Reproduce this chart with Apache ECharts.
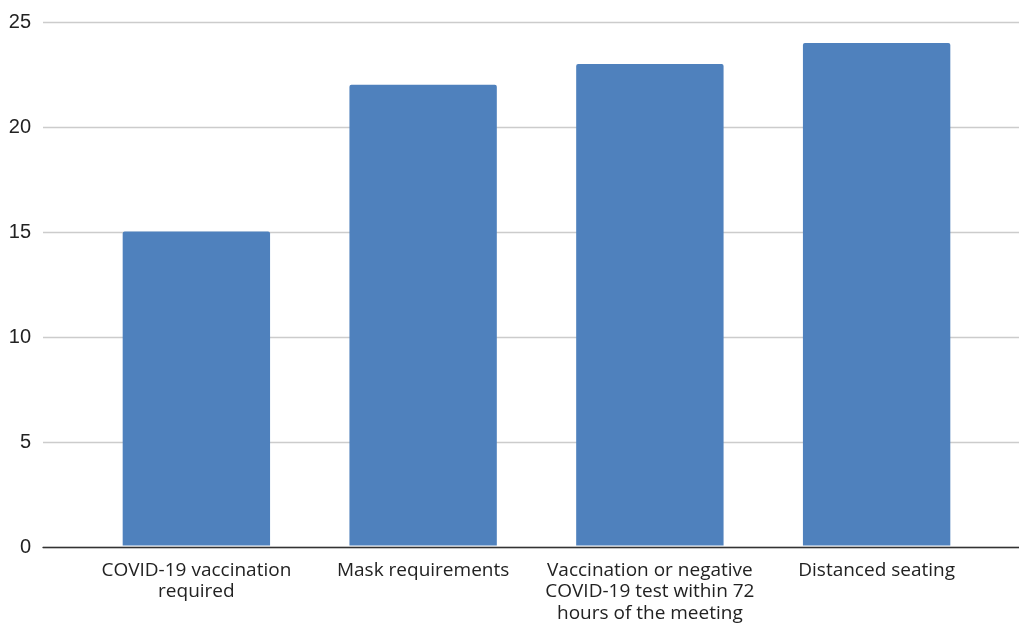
<!DOCTYPE html>
<html>
<head>
<meta charset="utf-8">
<style>
  html, body { margin: 0; padding: 0; background: #ffffff; }
  #chart { width: 1019px; height: 624px; }
</style>
<script src="https://cdn.jsdelivr.net/npm/echarts@6/dist/echarts.min.js"></script>
</head>
<body>
<div id="chart"></div>
<script>
// Meeting safety measures and how many respondents chose each
const categories = [
  'COVID-19 vaccination\nrequired',
  'Mask requirements',
  'Vaccination or negative\nCOVID-19 test within 72\nhours of the meeting',
  'Distanced seating'
];
const counts = [15, 22, 23, 24];
const yMin = 0;
const yMax = 25;
const yStep = 5;

const chart = echarts.init(document.getElementById('chart'), null, { renderer: 'canvas' });

const gridTop = 22;
const gridBottom = 77;

chart.setOption({
  animation: false,
  backgroundColor: '#ffffff',
  grid: [
    // full-width frame: value labels, gridlines and baseline
    { left: 43, right: 0, top: gridTop, bottom: gridBottom, containLabel: false },
    // inset band holding the bars and category labels
    { left: 83, right: 29, top: gridTop, bottom: gridBottom, containLabel: false }
  ],
  xAxis: [
    {
      gridIndex: 0,
      type: 'category',
      data: [''],
      axisLine: { show: true, lineStyle: { color: '#333333', width: 1.3 } },
      axisTick: { show: false },
      axisLabel: { show: false },
      splitLine: { show: false }
    },
    {
      gridIndex: 1,
      type: 'category',
      data: categories,
      axisLine: { show: false },
      axisTick: { show: false },
      axisLabel: {
        interval: 0,
        margin: 14,
        color: '#222222',
        fontFamily: 'Open Sans',
        fontSize: 19,
        lineHeight: 21.5,
        align: 'center'
      }
    }
  ],
  yAxis: [
    {
      gridIndex: 0,
      type: 'value',
      min: yMin,
      max: yMax,
      interval: yStep,
      axisLine: { show: false },
      axisTick: { show: false },
      axisLabel: {
        margin: 12,
        color: '#222222',
        fontFamily: 'Liberation Sans',
        fontSize: 20
      },
      splitLine: { show: true, lineStyle: { color: '#cccccc', width: 1.3 } }
    },
    {
      gridIndex: 1,
      type: 'value',
      min: yMin,
      max: yMax,
      interval: yStep,
      show: false,
      splitLine: { show: false }
    }
  ],
  series: [
    {
      type: 'bar',
      xAxisIndex: 1,
      yAxisIndex: 1,
      data: counts,
      barWidth: '65%',
      itemStyle: { color: '#4f81bd', borderRadius: [2, 2, 0, 0] },
      z: 3
    }
  ]
});
</script>
</body>
</html>
